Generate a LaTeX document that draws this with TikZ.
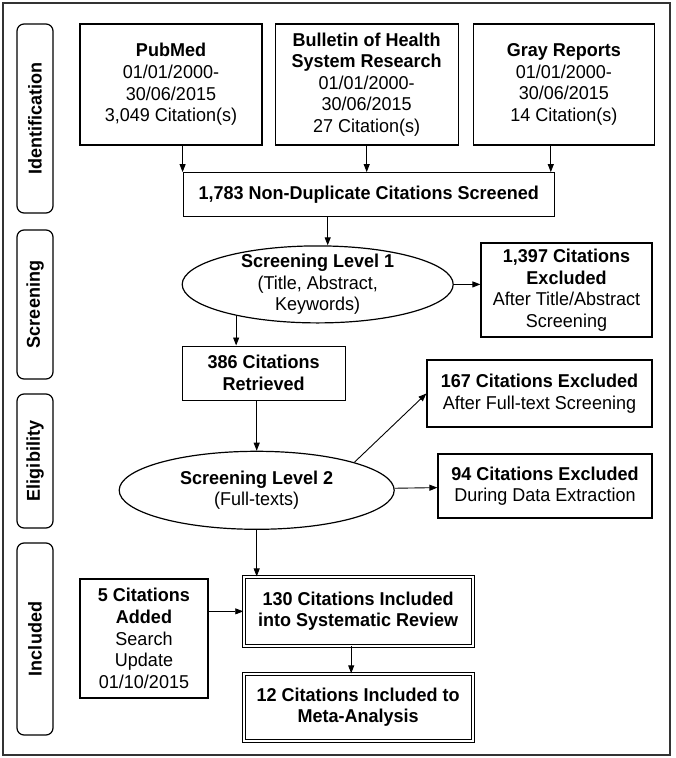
\documentclass[tikz,border=0pt]{standalone}
\usepackage{fontspec}
\setmainfont{Liberation Sans}[FakeStretch=0.968]
\usepackage{tikz}
\usetikzlibrary{positioning}
\usetikzlibrary{shapes.geometric}
\usetikzlibrary{arrows.meta}

\begin{document}
\begin{tikzpicture}[x=1pt,y=-1pt,
  font=\fontsize{18.6}{21.6}\selectfont,
  box/.style={draw, line width=1.2pt, align=center, inner sep=2pt},
  dbox/.style={draw, double, double distance=2pt, line width=0.9pt, align=center, inner sep=2pt},
  oval/.style={draw, ellipse, line width=1.2pt, align=center, inner xsep=0pt, inner ysep=-8pt},
  stage/.style={draw, rounded corners=7pt, line width=1.2pt, rotate=90, minimum height=36pt, font=\fontsize{18.6}{21.6}\selectfont\bfseries},
  arr/.style={line width=0.9pt, -{Triangle[length=8pt,width=6pt]}}]

  \useasboundingbox (0,0) rectangle (675,758);
  \draw[line width=1.4pt, black!80] (3,3) rectangle (670,755);

  \node[stage, minimum width=189pt] (ident) at (35,118.5) {Identification};
  \node[stage, minimum width=149pt] (screen) at (35,304.5) {Screening};
  \node[stage, minimum width=134pt] (elig) at (35,461) {Eligibility};
  \node[stage, minimum width=192pt] (incl) at (35,639) {Included};

  \node[box, minimum width=182pt, minimum height=121pt] (pubmed) at (171,84.5) {\textbf{PubMed}\\01/01/2000-\\30/06/2015\\3,049 Citation(s)};
  \node[box, minimum width=183pt, minimum height=121pt, right=12pt of pubmed] (bulletin) {\textbf{Bulletin of Health}\\\textbf{System Research}\\01/01/2000-\\30/06/2015\\27 Citation(s)};
  \node[box, minimum width=181pt, minimum height=121pt, right=14pt of bulletin] (gray) {\textbf{Gray Reports}\\01/01/2000-\\30/06/2015\\14 Citation(s)};
  \node[box, minimum width=371pt, minimum height=44pt, below=26.5pt of bulletin, xshift=2pt] (dup) {\textbf{1,783 Non-Duplicate Citations Screened}};

  \node[oval, minimum width=271pt, minimum height=77pt, below=28pt of dup, xshift=-51pt] (sl1) {\textbf{Screening Level 1}\\(Title, Abstract,\\Keywords)};
  \node[box, minimum width=171pt, minimum height=94pt] (ex1397) at (566.5,290) {\textbf{1,397 Citations}\\\textbf{Excluded}\\After Title/Abstract\\Screening};
  \node[box, minimum width=163pt, minimum height=54pt, below=22pt of sl1, xshift=-54pt] (ret386) {\textbf{386 Citations}\\\textbf{Retrieved}};

  \node[oval, minimum width=275pt, minimum height=78pt, below=50pt of ret386, xshift=-7pt] (sl2) {\textbf{Screening Level 2}\\(Full-texts)};
  \node[box, minimum width=225pt, minimum height=67pt] (ex167) at (539.5,393.5) {\textbf{167 Citations Excluded}\\After Full-text Screening};
  \node[box, minimum width=214pt, minimum height=64pt] (ex94) at (545,486) {\textbf{94 Citations Excluded}\\During Data Extraction};

  \node[dbox, minimum width=229pt, minimum height=69pt, below=46.5pt of sl2, xshift=101.5pt] (inc130) {\textbf{130 Citations Included}\\\textbf{into Systematic Review}};
  \node[dbox, minimum width=229pt, minimum height=67pt, below=27pt of inc130] (inc12) {\textbf{12 Citations Included to}\\\textbf{Meta-Analysis}};
  \node[box, minimum width=128pt, minimum height=119pt] (added) at (144,638.5) {\textbf{5 Citations}\\\textbf{Added}\\Search\\Update\\01/10/2015};

  \draw[arr] (pubmed.south -| dup.north west) -- (dup.north west);
  \path [arr] (bulletin) edge (bulletin.south |- dup.north);
  \draw[arr] ([xshift=-4pt]dup.north east |- gray.south) -- ([xshift=-4pt]dup.north east);
  \draw[arr] ([xshift=10pt]sl1.north |- dup.south) -- ([xshift=10pt]sl1.north);
  \draw[arr] (sl1.east) -- (sl1.east -| ex1397.west);
  \draw[arr] (sl1.201) -- (sl1.201 |- ret386.north);
  \draw[arr] (ret386.south -| sl2.north) -- (sl2.north);
  \draw[arr] (sl2.16) -- (ex167.west);
  \path [arr] (sl2) edge (ex94);
  \draw[arr] (sl2.south) -- (sl2.south |- inc130.north);
  \draw[arr] (added.east |- inc130.west) -- (inc130.west);
  \draw[arr] ([xshift=-7pt]inc130.south) -- ([xshift=-7pt]inc12.north);
\end{tikzpicture}
\end{document}
